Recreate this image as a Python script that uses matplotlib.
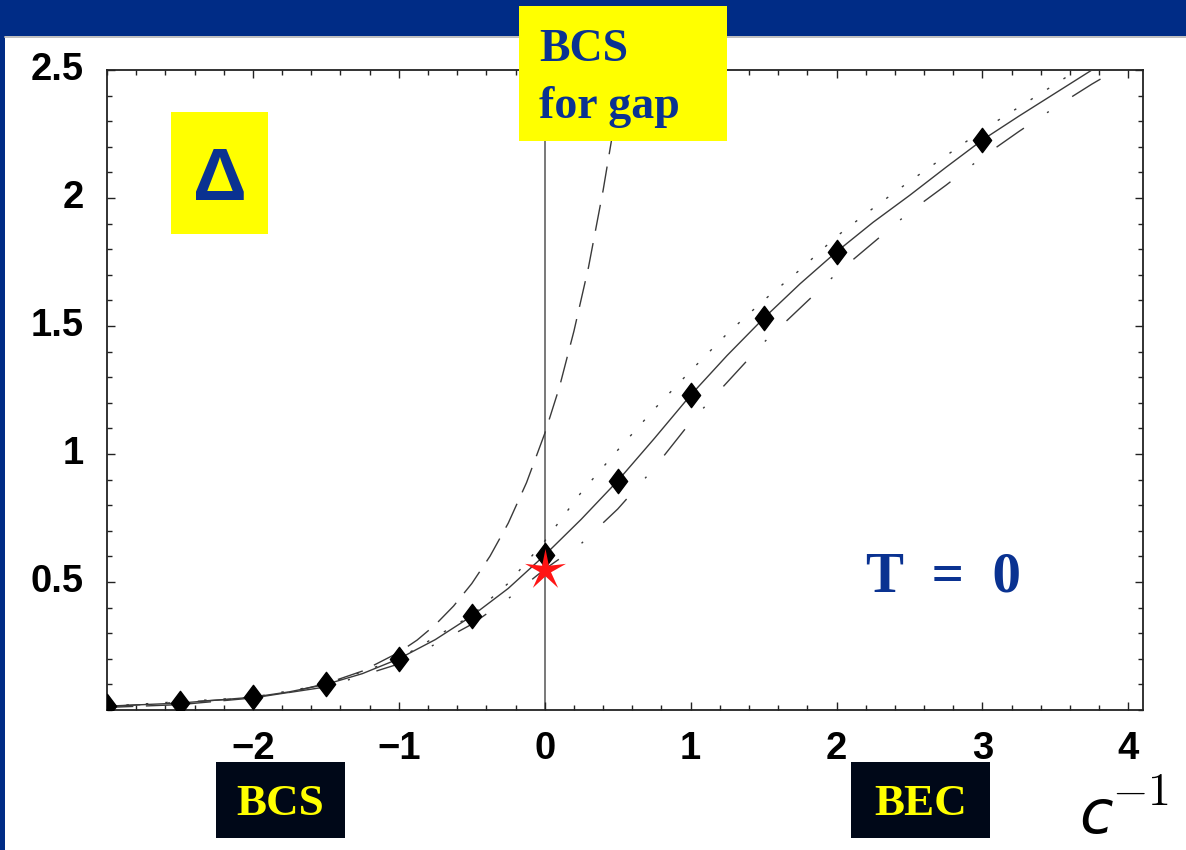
import numpy as np
import matplotlib
matplotlib.use('Agg')
import matplotlib.pyplot as plt
import matplotlib.transforms as mtransforms
from matplotlib.patches import Rectangle
from matplotlib.lines import Line2D
from matplotlib.path import Path

# gap Delta at T = 0 across the BCS-BEC crossover, versus c^-1
x_bcs = [-3.0, -2.5, -2.0, -1.75, -1.5, -1.25, -1.0, -0.875, -0.75, -0.625, -0.5, -0.375, -0.25, -0.125,
         0.0, 0.1, 0.2, 0.3, 0.4, 0.5, 0.55]
gap_bcs = [0.010, 0.021, 0.047, 0.069, 0.103, 0.152, 0.225, 0.273, 0.333, 0.406, 0.494, 0.601, 0.73, 0.888,
           1.08, 1.26, 1.48, 1.73, 2.03, 2.37, 2.57]

x_solid = [-3.0, -2.5, -2.0, -1.75, -1.5, -1.25, -1.0, -0.75, -0.5, -0.25, 0.0, 0.25, 0.5, 0.75, 1.0,
           1.25, 1.5, 1.75, 2.0, 2.25, 2.5, 2.75, 3.0, 3.25, 3.5, 3.75]
gap_solid = [0.015, 0.027, 0.05, 0.071, 0.10, 0.142, 0.20, 0.275, 0.367, 0.475, 0.605, 0.745, 0.895, 1.06, 1.23,
             1.385, 1.53, 1.665, 1.79, 1.905, 2.01, 2.12, 2.227, 2.32, 2.41, 2.5]

x_dot = [-3.0, -2.0, -1.5, -1.0, -0.5, -0.25, 0.0, 0.25, 0.5, 0.75, 1.0, 1.25, 1.5, 1.75, 2.0,
         2.25, 2.5, 2.75, 3.0, 3.25, 3.5, 3.65]
gap_dot = [0.015, 0.05, 0.10, 0.20, 0.37, 0.495, 0.66, 0.85, 1.015, 1.175, 1.325, 1.47, 1.60, 1.72, 1.85,
           1.96, 2.065, 2.165, 2.265, 2.355, 2.445, 2.5]

x_dd = [-3.0, -2.0, -1.5, -1.0, -0.5, -0.25, 0.0, 0.25, 0.5, 0.75, 1.0, 1.25, 1.5, 1.75, 2.0,
        2.25, 2.5, 2.75, 3.0, 3.25, 3.5, 3.75, 3.9]
gap_dd = [0.013, 0.047, 0.09, 0.18, 0.335, 0.435, 0.55, 0.65, 0.785, 0.945, 1.125, 1.28, 1.435, 1.57, 1.705,
          1.825, 1.945, 2.05, 2.16, 2.26, 2.355, 2.445, 2.495]

x_pts = [-3.0, -2.5, -2.0, -1.5, -1.0, -0.5, 0.0, 0.5, 1.0, 1.5, 2.0, 3.0]
gap_pts = [0.015, 0.027, 0.05, 0.10, 0.20, 0.367, 0.605, 0.895, 1.23, 1.53, 1.79, 2.227]

x_star = [0.0]
gap_star = [0.545]

xticks = [-2, -1, 0, 1, 2, 3, 4]
xticklabels = ['\u22122', '\u22121', '0', '1', '2', '3', '4']
yticks = [0.5, 1.0, 1.5, 2.0, 2.5]
yticklabels = ['0.5', '1', '1.5', '2', '2.5']

W, H = 1186, 850
blue = '#002c86'
textblue = '#0a3291'

fig = plt.figure(figsize=(W / 100, H / 100), dpi=100)


def box(x0, y0, x1, y1, color):
    # rectangle given in pixels from the top-left corner
    r = Rectangle((x0 / W, 1 - y1 / H), (x1 - x0) / W, (y1 - y0) / H,
                  transform=fig.transFigure, facecolor=color, edgecolor='none', zorder=2)
    fig.add_artist(r)


def label(x, y, s, **kw):
    # text placed in pixels from the top-left corner
    return fig.text(x / W, 1 - y / H, s, zorder=3, **kw)


# slide frame
box(0, 0, W, 36, blue)
box(0, 0, 5, H, blue)
fig.add_artist(Line2D([5 / W, 1], [1 - 37 / H] * 2, transform=fig.transFigure, color='#b4b4b4', lw=1.2, zorder=2))

ax = fig.add_axes([107 / W, 140 / H, 1036 / W, 640 / H])
ax.set_xlim(-3, 4.1)
ax.set_ylim(0, 2.5)

lc = '#3a3a3a'
ax.axvline(0, color='#555555', lw=1.1, zorder=1)
ax.plot(x_bcs, gap_bcs, color=lc, lw=1.0, dashes=(19, 9), zorder=2)
ax.plot(x_dot, gap_dot, color=lc, lw=1.0, dashes=(1.8, 12.2), zorder=2)
ax.plot(x_dd, gap_dd, color=lc, lw=1.0, dashes=(24, 20, 1.5, 20), zorder=2)
ax.plot(x_solid, gap_solid, color=lc, lw=1.0, zorder=3)

diamond = Path([(0, 1), (0.75, 0), (0, -1), (-0.75, 0), (0, 1)],
               [Path.MOVETO, Path.LINETO, Path.LINETO, Path.LINETO, Path.CLOSEPOLY])
ax.plot(x_pts, gap_pts, ls='none', marker=diamond, ms=17.5, color='black', zorder=4)

# thin five pointed star
ang = np.pi / 2 + np.arange(10) * np.pi / 5
rad = np.tile([1.0, 0.27], 5)
sv = np.column_stack([rad * np.cos(ang), rad * np.sin(ang)])
sv = np.vstack([sv, sv[:1]])
star = Path(sv, [Path.MOVETO] + [Path.LINETO] * 9 + [Path.CLOSEPOLY])
ax.plot(x_star, gap_star, ls='none', marker=star, ms=31, color='#ff1414', mec='none', zorder=5)

ax.set_xticks(xticks)
ax.set_xticklabels(xticklabels)
ax.set_yticks(yticks)
ax.set_yticklabels(yticklabels)
ax.set_xticks(np.arange(-3, 4.11, 0.2), minor=True)
ax.set_yticks(np.arange(0, 2.51, 0.1), minor=True)
ax.tick_params(which='both', direction='in', top=True, right=True, width=1.0, color='#222222')
ax.tick_params(which='major', length=5.5)
ax.tick_params(which='minor', length=3.5)
ax.tick_params(axis='x', pad=15)
ax.tick_params(axis='y', pad=17)
for lab in ax.get_xticklabels() + ax.get_yticklabels():
    lab.set_family('Liberation Sans')
    lab.set_weight('bold')
    lab.set_fontsize(27.5)
# y labels sit a little above their ticks
shift = mtransforms.ScaledTranslation(0, 3 / 72, fig.dpi_scale_trans)
for lab in ax.get_yticklabels():
    lab.set_transform(lab.get_transform() + shift)
for s in ax.spines.values():
    s.set_linewidth(1.3)
    s.set_color('#222222')

# labels on yellow and black panels
box(171, 112, 268, 234, '#ffff00')
label(219.5, 200, '\u0394', family='Liberation Sans', weight='bold', fontsize=54,
      color=textblue, ha='center', va='baseline')

box(519, 6, 727, 141, '#ffff00')
label(539, 61, 'BCS', family='Liberation Serif', weight='bold', fontsize=33,
      color=textblue, ha='left', va='baseline')
label(539, 118, 'for gap', family='Liberation Serif', weight='bold', fontsize=33,
      color=textblue, ha='left', va='baseline')

box(216, 762, 345, 838, '#000818')
label(280.5, 815, 'BCS', family='Liberation Serif', weight='bold', fontsize=32.5,
      color='#ffff00', ha='center', va='baseline')
box(851, 762, 990, 838, '#000818')
label(920.5, 815, 'BEC', family='Liberation Serif', weight='bold', fontsize=32.5,
      color='#ffff00', ha='center', va='baseline')

label(943, 592, 'T  =  0', family='Liberation Serif', weight='bold', fontsize=41,
      color=textblue, ha='center', va='baseline')

# axis name c^-1 at the lower right
label(1079, 833, r'$c$', fontsize=44, color='black', ha='left', va='baseline')
label(1112, 805, r'$-1$', fontsize=33, color='black', ha='left', va='baseline', math_fontfamily='cm')

fig.savefig('out.png', dpi=100)
